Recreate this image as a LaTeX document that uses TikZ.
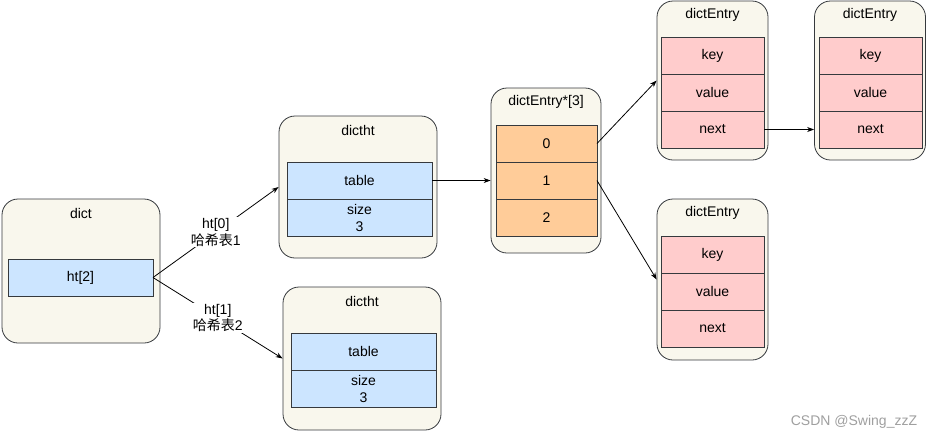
\documentclass[tikz,border=0pt]{standalone}
\usepackage{fontspec}
\setmainfont{Liberation Sans}
\newfontfamily\cjk{Noto Sans CJK SC}
\usepackage{tikz}
\usetikzlibrary{positioning}
\usetikzlibrary{arrows.meta}
\definecolor{boxfill}{HTML}{F9F7ED}
\definecolor{boxline}{HTML}{36393D}
\definecolor{htblue}{HTML}{CCE5FF}
\definecolor{bktorange}{HTML}{FFCC99}
\definecolor{entpink}{HTML}{FFCCCC}
\tikzstyle{holder}=[draw=boxline,fill=boxfill,rectangle,rounded corners=16pt,line width=0.8pt,inner sep=0pt]
\tikzstyle{cell}=[draw=boxline,rectangle,line width=0.8pt,inner sep=0pt,outer sep=0pt,minimum height=37pt,align=center]
\tikzstyle{htcell}=[cell,fill=htblue,minimum width=145pt]
\tikzstyle{bkt}=[cell,fill=bktorange,minimum width=101pt]
\tikzstyle{ent}=[cell,fill=entpink,minimum width=103pt]
\tikzstyle{lbl}=[fill=white,inner sep=1pt,align=center]
\def\hashCN#1{{\cjk 哈希表}#1}

\begin{document}
\begin{tikzpicture}[x=1pt,y=-1pt,font=\fontsize{14}{17}\selectfont,
    >={Stealth[length=7pt,width=5pt]}]
    \useasboundingbox (0,0) rectangle (926,440);

    % dict
    \node [holder, minimum width=158pt, minimum height=144pt] (dict) at (81,271) {};
    \node (dictT) at (81,213) {dict};
    \node [htcell] (ht2) at (80.5,277.5) {ht[2]};

    % dictht ht[0]
    \node [holder, minimum width=158pt, minimum height=142pt] (ht0) at (358,187) {};
    \node (ht0T) at (358,130) {dictht};
    \node [htcell] (tab0) at (359.5,180.5) {table};
    \node [htcell, below=0pt of tab0] (size0) {size\\3};

    % dictht ht[1]
    \node [holder, minimum width=158pt, minimum height=143pt] (ht1) at (362,358.5) {};
    \node (ht1T) at (362,301) {dictht};
    \node [htcell] (tab1) at (363.5,351.5) {table};
    \node [htcell, below=0pt of tab1] (size1) {size\\3};

    % table buckets
    \node [holder, minimum width=110pt, minimum height=165pt] (bkts) at (546,170.5) {};
    \node (bktsT) at (546,102) {dictEntry*[3]};
    \node [bkt] (b0) at (546.5,143.5) {0};
    \node [bkt, below=0pt of b0] (b1) {1};
    \node [bkt, below=0pt of b1] (b2) {2};

    % entries
    \node [holder, minimum width=111pt, minimum height=159pt] (e1) at (712.5,80.5) {};
    \node (e1T) at (712.5,15) {dictEntry};
    \node [ent] (key1) at (712.5,55.5) {key};
    \node [ent, below=0pt of key1] (val1) {value};
    \node [ent, below=0pt of val1] (next1) {next};

    \node [holder, minimum width=111pt, minimum height=159pt] (e2) at (870,80.5) {};
    \node (e2T) at (870,15) {dictEntry};
    \node [ent] (key2) at (870.5,55.5) {key};
    \node [ent, below=0pt of key2] (val2) {value};
    \node [ent, below=0pt of val2] (next2) {next};

    \node [holder, minimum width=111pt, minimum height=161pt] (e3) at (712.5,279.5) {};
    \node (e3T) at (712.5,213) {dictEntry};
    \node [ent] (key3) at (712.5,254.5) {key};
    \node [ent, below=0pt of key3] (val3) {value};
    \node [ent, below=0pt of val3] (next3) {next};

    \path [->, line width=0.8pt]
        (ht2.east) edge node [lbl] {ht[0]\\\hashCN{1}} (ht0.west)
                   edge node [lbl] {ht[1]\\\hashCN{2}} (ht1.west)
        (tab0.east) edge (tab0.east -| bkts.west)
        (b0.east) edge (e1.west)
        (b1.east) edge (e3.west)
        (next1.east) edge (next1.east -| e2.west);

    \node [text=gray!75] (mark) at (854,422) {CSDN @Swing\_zzZ};
\end{tikzpicture}
\end{document}
